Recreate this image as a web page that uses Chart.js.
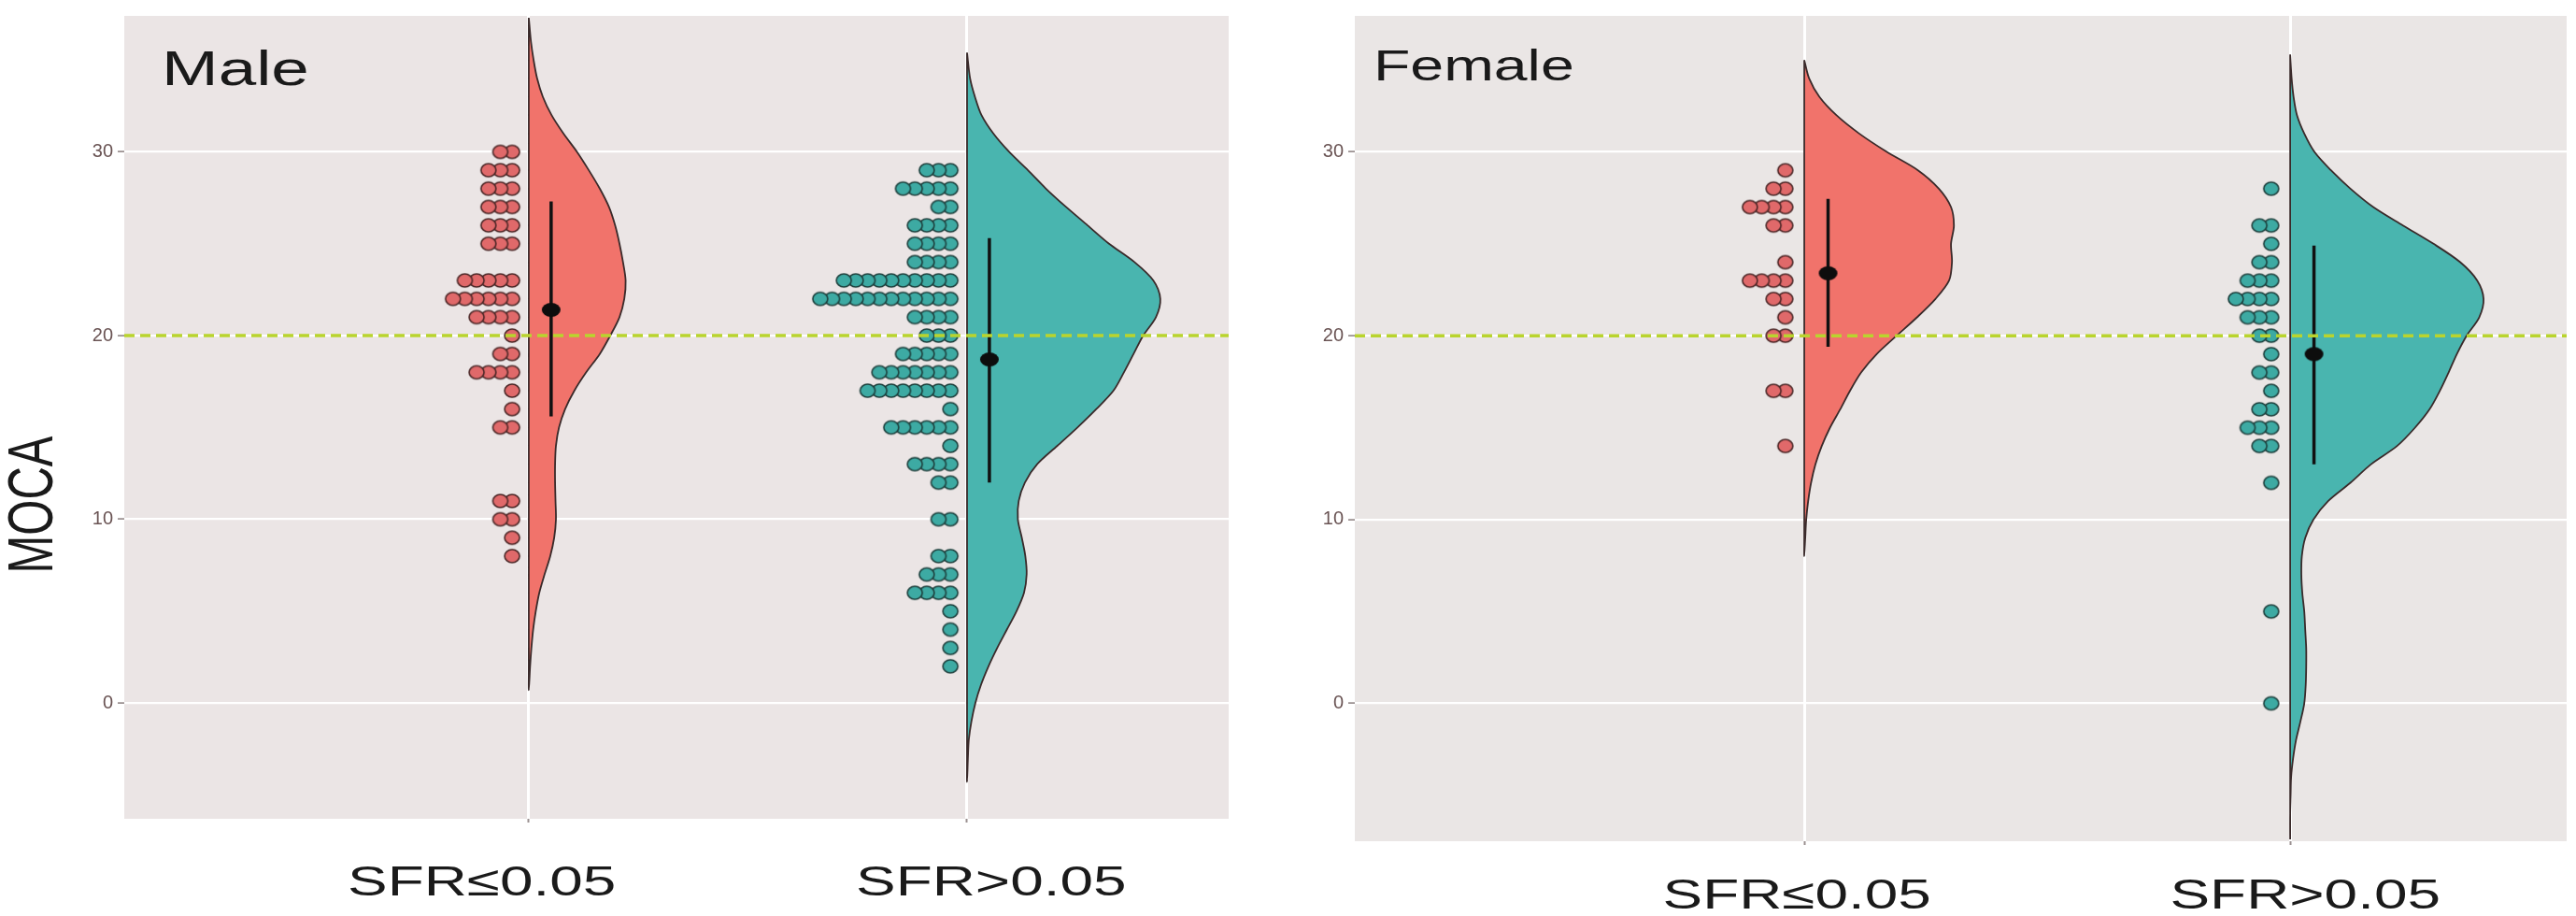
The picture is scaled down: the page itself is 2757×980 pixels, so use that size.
<!DOCTYPE html>
<html>
<head>
<meta charset="utf-8">
<script src="https://cdn.jsdelivr.net/npm/chart.js@4.4.1/dist/chart.umd.min.js"></script>
<style>
  html, body { margin: 0; padding: 0; background: #fff; }
  body { width: 2757px; height: 980px; position: relative; overflow: hidden; }
  canvas { position: absolute; top: 0; }
</style>
</head>
<body>
<canvas id="maleChart" width="1330" height="980" style="left:0;width:1330px;height:980px"></canvas>
<canvas id="femaleChart" width="1427" height="980" style="left:1330px;width:1427px;height:980px"></canvas>
<script>
// ---- data ----
const groups = ['SFR≤0.05', 'SFR>0.05'];
const yTicks = [0, 10, 20, 30];
const cutOff = 20;

// dotplots: MOCA score and number of subjects at that score
const maleLowScores = [30, 29, 28, 27, 26, 25, 23, 22, 21, 20, 19, 18, 17, 16, 15, 11, 10, 9, 8];
const maleLowCounts = [2, 3, 3, 3, 3, 3, 5, 6, 4, 1, 2, 4, 1, 1, 2, 2, 2, 1, 1];
const maleHighScores = [29, 28, 27, 26, 25, 24, 23, 22, 21, 20, 19, 18, 17, 16, 15, 14, 13, 12, 10, 8, 7, 6, 5, 4, 3, 2];
const maleHighCounts = [3, 5, 2, 4, 4, 4, 10, 12, 4, 3, 5, 7, 8, 1, 6, 1, 4, 2, 2, 2, 3, 4, 1, 1, 1, 1];
const femaleLowScores = [29, 28, 27, 26, 24, 23, 22, 21, 20, 17, 14];
const femaleLowCounts = [1, 2, 4, 2, 1, 4, 2, 1, 2, 2, 1];
const femaleHighScores = [28, 26, 25, 24, 23, 22, 21, 20, 19, 18, 17, 16, 15, 14, 12, 5, 0];
const femaleHighCounts = [1, 2, 1, 2, 3, 4, 3, 2, 1, 2, 1, 2, 3, 2, 1, 1, 1];

// half-violin outlines: MOCA level and half width (in x-axis units)
const maleLowLevels = [37.3, 36, 35, 34, 33, 32, 31, 30, 29, 28, 27, 26, 25, 24, 23, 22, 21, 20, 19,
  18, 17, 16, 15, 14, 13, 12, 11, 10, 9, 8, 7, 6, 5, 4, 3, 2, 0.7];
const maleLowWidths = [0, .005, .011, .019, .032, .052, .079, .110, .137, .162, .183, .197, .207, .215, .221, .218, .207, .186, .162,
  .131, .104, .083, .069, .062, .060, .060, .061, .062, .058, .049, .036, .024, .016, .010, .006, .003, 0];
const maleHighLevels = [35.4, 34, 33, 32, 31, 30, 29, 28, 27, 26, 25, 24, 23, 22, 21, 20, 19, 18, 17,
  16, 15, 14, 13, 12, 11, 10, 9, 8, 7, 6, 5, 4, 3, 2, 1, 0, -1, -2, -3, -4.3];
const maleHighWidths = [0, .007, .018, .033, .060, .096, .139, .180, .226, .275, .324, .382, .425, .441, .431, .402, .380, .358, .334,
  .295, .252, .206, .160, .132, .118, .116, .125, .133, .136, .130, .113, .091, .069, .049, .032, .019, .010, .004, .002, 0];
const femaleLowLevels = [35, 34, 33, 32, 31, 30, 29, 28, 27, 26, 25, 24, 23, 22, 21, 20, 19, 18, 17, 16,
  15, 14, 13, 12, 11, 10, 9, 8];
const femaleLowWidths = [0, .010, .031, .066, .113, .170, .234, .277, .302, .308, .302, .304, .298, .270, .232, .190, .149, .117, .094, .074,
  .053, .036, .023, .014, .008, .004, .002, 0];
const femaleHighLevels = [35.3, 34, 33, 32, 31, 30, 29, 28, 27, 26, 25, 24, 23, 22, 21, 20, 19, 18, 17, 16,
  15, 14, 13, 12, 11, 10, 9, 8, 7, 6, 5, 4, 3, 2, 1, 0, -1, -2, -3, -4, -5, -6, -7.4];
const femaleHighWidths = [0, .003, .007, .014, .029, .050, .084, .124, .171, .232, .295, .350, .385, .398, .389, .363, .343, .326, .308, .287,
  .257, .220, .166, .124, .078, .048, .031, .024, .023, .025, .029, .031, .033, .033, .032, .029, .021, .012, .006, .002, .001, 0, 0];

// mean and error bar limits per group
const maleMean = [21.4, 18.7];
const maleLow = [15.6, 12.0];
const maleHigh = [27.3, 25.3];
const femaleMean = [23.4, 19.0];
const femaleLow = [19.4, 13.0];
const femaleHigh = [27.45, 24.9];

// ---- styling ----
const violinFill = ['#f1736b', '#49b5af'];
const dotFill = ['#e0696a', '#3daaa3'];
const dotEdge = ['#4a2626', '#1d3f3c'];
const FONT = '"Liberation Sans", Arial, sans-serif';

function ellipseDot(w, h, fill, stroke, lw) {
  const c = document.createElement('canvas');
  c.width = w + 4;
  c.height = h + 4;
  const g = c.getContext('2d');
  g.beginPath();
  g.ellipse(c.width / 2, c.height / 2, w / 2, h / 2, 0, 0, Math.PI * 2);
  g.fillStyle = fill;
  g.fill();
  if (lw) {
    g.lineWidth = lw;
    g.strokeStyle = stroke;
    g.stroke();
  }
  return c;
}
const dotImg = [ellipseDot(16, 14, dotFill[0], dotEdge[0], 1.6), ellipseDot(16, 14, dotFill[1], dotEdge[1], 1.6)];
const meanImg = ellipseDot(20, 15, '#0d0d0d', '#0d0d0d', 0);

function violinPoints(pos, levels, widths) {
  const pts = levels.map((v, i) => ({x: pos + widths[i], y: v}));
  // back up along the flat side
  for (let i = levels.length - 2; i >= 0; i--) pts.push({x: pos, y: levels[i]});
  return pts;
}

function dotPoints(pos, scores, counts, shift, step) {
  const pts = [];
  scores.forEach((s, i) => {
    for (let k = 0; k < counts[i]; k++) pts.push({x: pos + shift - k * step, y: s});
  });
  return pts;
}

function stretchedText(ctx, text, x, y, size, sx, align) {
  ctx.save();
  ctx.translate(x, y);
  ctx.scale(sx, 1);
  ctx.font = size + 'px ' + FONT;
  ctx.textAlign = align;
  ctx.textBaseline = 'alphabetic';
  ctx.fillText(text, 0, 0);
  ctx.restore();
}

const panelBg = {
  id: 'panelBg',
  beforeDraw(chart, args, opts) {
    const {ctx, chartArea: a} = chart;
    ctx.save();
    ctx.fillStyle = opts.color;
    ctx.fillRect(a.left, a.top, a.right - a.left, a.bottom - a.top);
    ctx.restore();
  }
};

const panelText = {
  id: 'panelText',
  afterDraw(chart, args, opts) {
    const {ctx, chartArea: a, scales} = chart;
    ctx.save();
    ctx.fillStyle = '#1a1a1a';
    stretchedText(ctx, opts.title, a.left + opts.titleDx, a.top + opts.titleDy, opts.titleSize, 1.4, 'left');
    groups.forEach((g, i) => {
      const x = scales.x.getPixelForValue(i + 1 + opts.labelShift[i]);
      stretchedText(ctx, g, x, opts.labelY, 45, 1.42, 'center');
    });
    if (opts.yTitle) {
      ctx.translate(31, 540);
      ctx.rotate(-Math.PI / 2);
      ctx.scale(1, 1.4);
      ctx.font = '49px ' + FONT;
      ctx.textAlign = 'center';
      ctx.textBaseline = 'alphabetic';
      ctx.fillText(opts.yTitle, 0, 49 * 0.716 / 2);
    }
    ctx.restore();
  }
};

function buildPanel(id, p) {
  const datasets = [];
  p.violins.forEach((v, i) => {
    const pos = i + 1;
    datasets.push({
      data: violinPoints(pos, v.levels, v.widths),
      showLine: true, fill: 'shape', backgroundColor: violinFill[i],
      borderColor: '#3a2a2a', borderWidth: 1.8, tension: 0.3,
      pointRadius: 0, order: 4
    });
    datasets.push({
      data: dotPoints(pos, v.scores, v.counts, p.dotShift, p.dotStep),
      pointStyle: dotImg[i], pointRadius: 8, order: 3
    });
    datasets.push({
      data: [{x: pos + p.barShift, y: p.low[i]}, {x: pos + p.barShift, y: p.high[i]}],
      showLine: true, borderColor: '#111111', borderWidth: 3.5, pointRadius: 0, order: 2
    });
    datasets.push({
      data: [{x: pos + p.barShift, y: p.mean[i]}],
      pointStyle: meanImg, pointRadius: 9, order: 1
    });
  });
  datasets.push({
    data: [{x: p.xMin, y: cutOff}, {x: p.xMax, y: cutOff}],
    showLine: true, borderColor: '#b9d42e', borderWidth: 3.5, borderDash: [11, 6],
    pointRadius: 0, order: 0
  });

  return new Chart(document.getElementById(id), {
    type: 'scatter',
    data: {datasets},
    options: {
      responsive: false,
      devicePixelRatio: 1,
      animation: false,
      events: [],
      layout: {padding: {left: 0, top: p.padTop, right: p.padRight, bottom: 0}},
      plugins: {
        legend: {display: false},
        tooltip: {enabled: false},
        panelBg: {color: p.bg},
        panelText: {
          title: p.title, titleDx: p.titleDx, titleDy: p.titleDy, titleSize: p.titleSize,
          labelShift: p.labelShift, labelY: p.labelY, yTitle: p.yTitle
        }
      },
      scales: {
        x: {
          type: 'linear', min: p.xMin, max: p.xMax,
          afterBuildTicks: s => { s.ticks = [{value: 1}, {value: 2}]; },
          afterFit: s => { s.height = p.xHeight; },
          grid: {color: '#ffffff', lineWidth: 3, tickColor: '#9a9090', tickLength: 4, tickWidth: 2},
          border: {display: false},
          ticks: {callback: () => '', autoSkip: false}
        },
        y: {
          type: 'linear', min: p.yMin, max: p.yMax,
          afterBuildTicks: s => { s.ticks = yTicks.map(v => ({value: v})); },
          afterFit: s => { s.width = p.yWidth; },
          grid: {color: '#ffffff', lineWidth: 2.2, tickColor: '#8a7e7e', tickLength: 7, tickWidth: 1.5},
          border: {display: false},
          ticks: {color: '#6a5454', font: {family: FONT, size: 20}, padding: 5}
        }
      }
    },
    plugins: [panelBg, panelText]
  });
}

buildPanel('maleChart', {
  title: 'Male', titleDx: 40, titleDy: 74, titleSize: 52, yTitle: 'MOCA',
  bg: '#ebe5e5',
  xMin: 0.077, xMax: 2.597, yMin: -6.3, yMax: 37.4,
  padTop: 7, padRight: 15, yWidth: 133, xHeight: 104,
  labelShift: [-0.107, 0.055], labelY: 958,
  dotShift: -0.038, dotStep: 0.027, barShift: 0.051,
  mean: maleMean, low: maleLow, high: maleHigh,
  violins: [
    {levels: maleLowLevels, widths: maleLowWidths, scores: maleLowScores, counts: maleLowCounts},
    {levels: maleHighLevels, widths: maleHighWidths, scores: maleHighScores, counts: maleHighCounts}
  ]
});

buildPanel('femaleChart', {
  title: 'Female', titleDx: 20, titleDy: 69, titleSize: 46, yTitle: null,
  bg: '#eae6e5',
  xMin: 0.075, xMax: 2.569, yMin: -7.5, yMax: 37.4,
  padTop: 8, padRight: 5, yWidth: 120, xHeight: 80,
  labelShift: [-0.015, 0.031], labelY: 972,
  dotShift: -0.039, dotStep: 0.0243, barShift: 0.049,
  mean: femaleMean, low: femaleLow, high: femaleHigh,
  violins: [
    {levels: femaleLowLevels, widths: femaleLowWidths, scores: femaleLowScores, counts: femaleLowCounts},
    {levels: femaleHighLevels, widths: femaleHighWidths, scores: femaleHighScores, counts: femaleHighCounts}
  ]
});
</script>
</body>
</html>
